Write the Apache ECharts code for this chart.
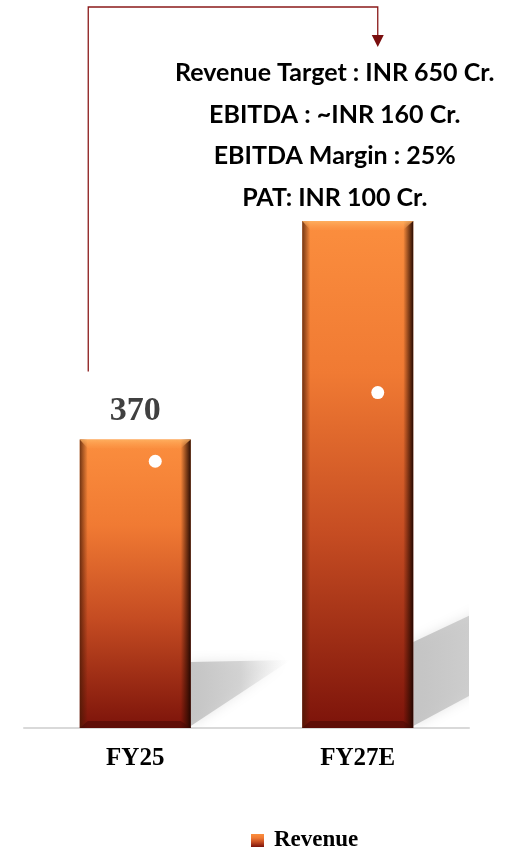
<!DOCTYPE html>
<html>
<head>
<meta charset="utf-8">
<script src="https://cdn.jsdelivr.net/npm/echarts@6/dist/echarts.min.js"></script>
<style>
  html, body { margin: 0; padding: 0; background: #ffffff; }
  #chart { width: 514px; height: 847px; }
</style>
</head>
<body>
<div id="chart"></div>
<script>
// Revenue, INR Cr.
const categories = ['FY25', 'FY27E'];
const revenue = [370, 650];
const revenueLabels = ['370', ''];
// White marker points drawn on the bars
const markerPoints = [342, 430];
// Target notes for FY27E
const targetNotes = [
  'Revenue Target : INR 650 Cr.',
  'EBITDA : ~INR 160 Cr.',
  'EBITDA Margin : 25%',
  'PAT: INR 100 Cr.'
];

const BAR_W = 111;
const barGradient = new echarts.graphic.LinearGradient(0, 0, 0, 1, [
  { offset: 0, color: '#FB8E3E' },
  { offset: 0.3, color: '#F07A33' },
  { offset: 0.62, color: '#C54C22' },
  { offset: 1, color: '#7C130A' }
]);

// Floor-shadow shape per bar: rise at the bar edge, slope of upper/lower edges, length
const shadowStyles = [
  { rise: 66, upper: 0.02, lower: 0.66, len: 100 },
  { rise: 86, upper: 0.47, lower: 0.54, len: 180 }
];

const chart = echarts.init(document.getElementById('chart'), null, { renderer: 'canvas' });

// Soft diagonal floor shadow behind each bar
function renderShadow(params, api) {
  const s = shadowStyles[params.dataIndex];
  const base = api.coord([api.value(0), 0]);
  const xr = base[0] + BAR_W / 2;
  const y = base[1];
  return {
    type: 'polygon',
    shape: {
      points: [
        [xr, y - 2],
        [xr, y - s.rise],
        [xr + s.len, y - s.rise - s.len * s.upper],
        [xr + s.len, y - 2 - s.len * s.lower]
      ]
    },
    style: {
      fill: new echarts.graphic.LinearGradient(0, 0, 1, 0, [
        { offset: 0, color: 'rgba(192,192,192,0.9)' },
        { offset: 0.5, color: 'rgba(200,200,200,0.7)' },
        { offset: 1, color: 'rgba(230,230,230,0)' }
      ]),
      shadowBlur: 12,
      shadowColor: 'rgba(205,205,205,0.6)'
    },
    silent: true
  };
}

// Bevel edges laid over each bar
function renderBevel(params, api) {
  const base = api.coord([api.value(0), 0]);
  const top = api.coord([api.value(0), api.value(1)]);
  const x0 = base[0] - BAR_W / 2;
  const x1 = base[0] + BAR_W / 2;
  const y0 = top[1];
  const y1 = base[1];
  const h = y1 - y0;
  return {
    type: 'group',
    silent: true,
    children: [
      {
        type: 'rect',
        shape: { x: x0, y: y0, width: 8, height: h },
        style: {
          fill: new echarts.graphic.LinearGradient(0, 0, 1, 0, [
            { offset: 0, color: 'rgba(70,25,5,0.75)' },
            { offset: 1, color: 'rgba(70,25,5,0)' }
          ])
        }
      },
      {
        type: 'rect',
        shape: { x: x1 - 10, y: y0, width: 10, height: h },
        style: {
          fill: new echarts.graphic.LinearGradient(0, 0, 1, 0, [
            { offset: 0, color: 'rgba(40,10,0,0)' },
            { offset: 0.6, color: 'rgba(40,10,0,0.6)' },
            { offset: 1, color: 'rgba(30,5,0,0.95)' }
          ])
        }
      },
      {
        type: 'polygon',
        shape: { points: [[x0, y0], [x1, y0], [x1 - 10, y0 + 9], [x0 + 8, y0 + 9]] },
        style: {
          fill: new echarts.graphic.LinearGradient(0, 0, 0, 1, [
            { offset: 0, color: 'rgba(255,180,100,0.85)' },
            { offset: 1, color: 'rgba(255,160,80,0.15)' }
          ])
        }
      },
      {
        type: 'polygon',
        shape: { points: [[x0 + 8, y1 - 7], [x1 - 10, y1 - 7], [x1, y1], [x0, y1]] },
        style: { fill: 'rgba(70,10,5,0.55)' }
      }
    ]
  };
}

const option = {
  backgroundColor: '#ffffff',
  animation: false,
  grid: { left: 24, right: 45, top: 104, bottom: 119 },
  legend: {
    data: ['Revenue'],
    top: 824,
    left: 246,
    icon: 'rect',
    itemWidth: 13,
    itemHeight: 13,
    itemGap: 4,
    textStyle: {
      fontFamily: 'Liberation Serif',
      fontWeight: 'bold',
      fontSize: 23,
      color: '#000',
      padding: [0, 0, 0, 5]
    }
  },
  xAxis: {
    type: 'category',
    data: categories,
    axisLine: { lineStyle: { color: '#d9d9d9', width: 2 } },
    axisTick: { show: false },
    axisLabel: {
      margin: 18,
      fontFamily: 'Liberation Serif',
      fontWeight: 'bold',
      fontSize: 25,
      color: '#000'
    }
  },
  yAxis: {
    type: 'value',
    min: 0,
    max: 800,
    show: false,
    splitLine: { show: false }
  },
  series: [
    {
      name: 'shadow',
      type: 'custom',
      renderItem: renderShadow,
      data: categories.map((c, i) => [i, revenue[i]]),
      z: 1,
      clip: true
    },
    {
      name: 'Revenue',
      type: 'bar',
      data: revenue.map((v, i) => ({
        value: v,
        label: { show: revenueLabels[i] !== '', formatter: revenueLabels[i] }
      })),
      barWidth: BAR_W,
      itemStyle: { color: barGradient },
      label: {
        position: 'top',
        distance: 11,
        fontFamily: 'Liberation Serif',
        fontWeight: 'bold',
        fontSize: 34,
        color: '#404040'
      },
      z: 2
    },
    {
      name: 'bevel',
      type: 'custom',
      renderItem: renderBevel,
      data: categories.map((c, i) => [i, revenue[i]]),
      z: 3
    },
    {
      name: 'points',
      type: 'scatter',
      data: markerPoints,
      symbol: 'circle',
      symbolSize: 13,
      symbolOffset: [20, 0],
      itemStyle: { color: '#ffffff', opacity: 1 },
      z: 4
    }
  ]
};

chart.setOption(option);

// Bracket arrow from FY25 to the FY27E target notes, placed from axis coordinates
const p25 = chart.convertToPixel({ gridIndex: 0 }, [0, revenue[0]]);
const p27 = chart.convertToPixel({ gridIndex: 0 }, [1, revenue[1]]);
const lineX0 = p25[0] - 47;
const lineY0 = p25[1] - 68;
const lineTop = 7;
const arrowX = p27[0] + 20;
const arrowTip = 47;
const noteX = p27[0] - 23;

const graphics = [
  {
    type: 'polyline',
    shape: { points: [[lineX0, lineY0], [lineX0, lineTop], [arrowX, lineTop], [arrowX, arrowTip - 10]] },
    style: { stroke: '#8B1A1A', lineWidth: 1.3, fill: null },
    z: 10
  },
  {
    type: 'polygon',
    shape: { points: [[arrowX - 6, arrowTip - 12], [arrowX + 6, arrowTip - 12], [arrowX, arrowTip]] },
    style: { fill: '#7A0E0E' },
    z: 10
  }
];
targetNotes.forEach((t, i) => {
  graphics.push({
    type: 'text',
    x: noteX,
    y: 73 + i * 41.5,
    style: {
      text: t,
      align: 'center',
      verticalAlign: 'middle',
      font: 'bold 25px Lato',
      fill: '#000'
    },
    z: 10
  });
});
chart.setOption({ graphic: graphics });
</script>
</body>
</html>
